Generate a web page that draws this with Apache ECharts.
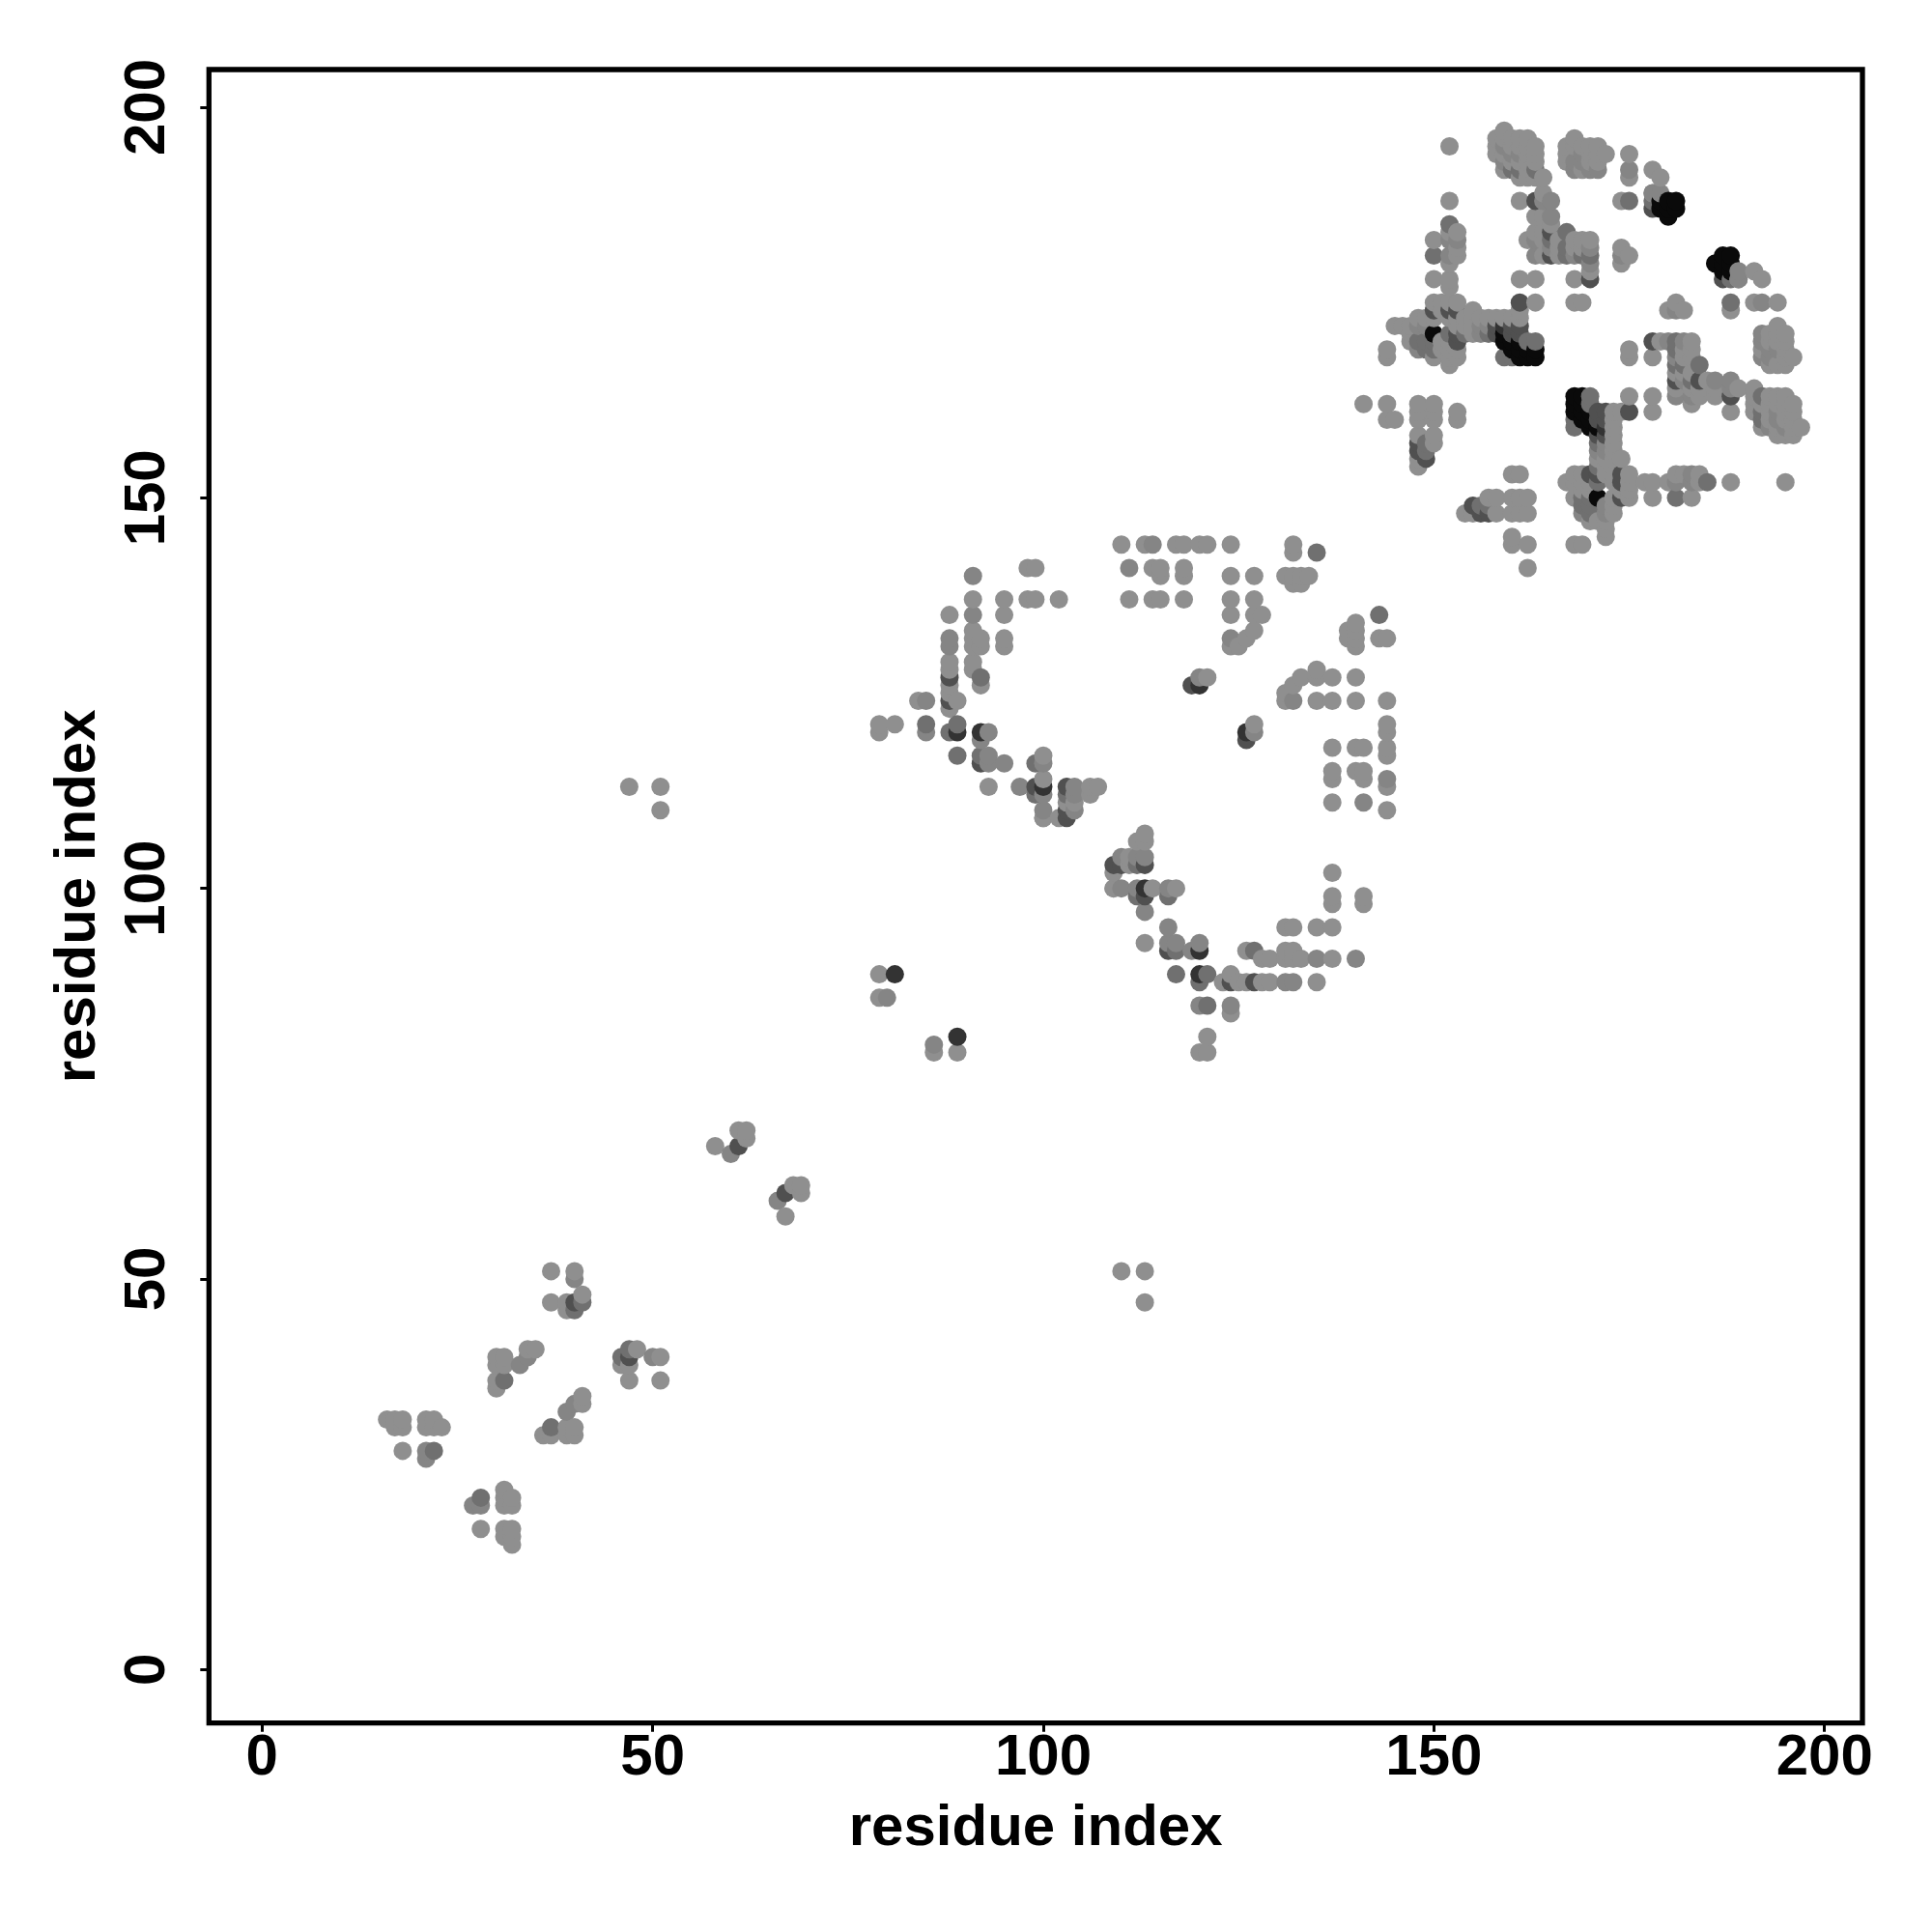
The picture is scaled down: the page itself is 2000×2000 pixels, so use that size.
<!DOCTYPE html>
<html><head><meta charset="utf-8">
<style>html,body{margin:0;padding:0;background:#fff}#c{width:2000px;height:2000px}</style>
<script src="https://cdn.jsdelivr.net/npm/echarts@6/dist/echarts.min.js"></script>
</head><body><div id="c"></div>
<script>
const tickValues=[0,50,100,150,200];
const axisTitle="residue index";
// each row: residue i, then the residues j in contact with it (the map is symmetric)
const contactsLevel1=[
[16,32],[17,31,32],[18,28,31,32],[21,31,32],[22,31,32],[23,31],
[30,36,37,39,40],[31,39,40],[34,41],[35,41],[37,47,51],[39,46,47],[40,51],[41,48],
[47,113],[51,110,113],[58,67],[61,69],[62,68,69],
[79,86,89,120,121],[81,121],[84,124],
[88,123,125,126,128,129,135],[89,124],[91,128,129,131,132,133,137],[92,126,131,132],[93,113],
[95,131,132,135,137],[98,137,141],[99,137,141],[100,109,114,117],[102,109,137],[103,111],[104,111],
[106,112,113],[107,113],[109,100],[110,144],[113,144],[117,144],[118,137,140,141,144],[120,144],[121,127,144],[124,131,135,137,140,144],
[111,137],[114,137,141],[115,137,140,141],[125,131],[126,132],[127,133,135,137,140],[128,135],
[131,140],[132,139,140,143,144],[133,139,140],[134,140],
[141,162],[144,160,162,168,169],[145,160,172],[146,172],[147,170,171,172],[148,154,155,158,160,161,162,173],[149,173],
[150,157,158,160,161,162,168,173,175,178,183],[151,169,170,174,175],
[152,167,168,169,170,173,175,177,178,180,184,188,195],[153,160,161,168,169,172,173,175,181,182,184],
[154,172,173],[155,171,172,173,174],[156,173],[157,173],[158,173,194,195,196],
[159,173,192,194,196,197],[160,173,193,195,196],[161,173,174,178,188,191,193,195,196],
[162,183,191,192,193,194,195,196],[163,175,178,184,186,191,193,194,195],[164,181,183,184,186,189,191],[165,185],
[166,181,182,183],[167,193,194,195],[168,175,178,182,183,195,196],[169,175,182,183,192,195],
[170,179,183,193,194,195],[171,193,194,195],[172,194],[174,180,182,188],[175,181,191,194],[178,189,192],[179,191]
];
const contactsLevel2=[
[21,27,28],[33,39],[34,40],[40,50],[60,66],[80,86],[85,120,124],[88,131,132],[91,135,140],[92,119],[93,116,117,120],[95,116],[97,113],
[100,110,112,116],[104,110,112,113],[111,141],[114,144],[120,127],[124,132],
[148,169,172],[149,172],[152,181,183],[153,183],[156,171,172],[157,172],[159,193,195],[160,194],[161,194],[163,181,183],[164,188],[165,182,186,188],
[168,181,192,193],[169,193,194],[170,180,182,192],[171,192],[174,181],[175,192],[178,189],[179,189]
];
const contactsLevel3=[
[22,28],[31,37],[41,47],[40,46],[85,121],[88,120],[89,117,121],[92,117,127],[99,112,116],[103,112],[135,143],
[148,170],[149,156,157,169,170],[150,169,170,181],[152,171,185],[154,171],[157,171],[159,168],[160,168,192],[161,192],[162,170],[163,170,192],
[165,183],[167,181,182,184],[169,181],[170,181],[175,188],[178,188]
];
const contactsLevel4=[
[40,47],[61,67],[88,124,127],[92,116],[99,113],[103,109,110,113],[119,126],
[148,156,157],[149,155],[150,174],[152,174],[153,170,171,174],[158,171,172],[160,171,172],[161,171,172,175],[163,188],[165,181,184],[170,178],[178,187]
];
const contactsLevel5=[
[81,89],[89,120],[92,120],[100,113],[120,126],[159,172]
];
const contactsLevel6=[
[150,171],[159,170,171],[160,169,170],[161,168,169,170],[162,168,169],[163,168,169],[179,187,188],[180,186,187,188],[181,187,188]
];
const levelGrays=['#8f8f8f','#858585','#707070','#505050','#333333','#0a0a0a'];
const allLevels=[contactsLevel1,contactsLevel2,contactsLevel3,contactsLevel4,contactsLevel5,contactsLevel6];
const points=[];
allLevels.forEach((rows,level)=>rows.forEach(row=>{
  const i=row[0];
  row.slice(1).forEach(j=>{points.push([i,j,level]);points.push([j,i,level]);});
}));
points.sort((p,q)=>p[0]-q[0]||p[1]-q[1]);
const font='"Liberation Sans"';
const chart=echarts.init(document.getElementById('c'),null,{renderer:'canvas'});
chart.setOption({
  animation:false,
  backgroundColor:'#fff',
  grid:{left:216.3,top:72,width:1711.7,height:1711.7,show:true,borderColor:'#000',borderWidth:5.3,backgroundColor:'transparent',containLabel:false},
  xAxis:{type:'value',min:-6.8,max:204.86,
    name:axisTitle,nameLocation:'middle',nameGap:80,
    nameTextStyle:{fontFamily:font,fontWeight:'bold',fontSize:60,color:'#000'},
    splitLine:{show:false},axisLine:{show:false,onZero:false},
    axisTick:{show:true,length:9,lineStyle:{color:'#000',width:3},customValues:tickValues},
    axisLabel:{show:true,margin:6.5,fontFamily:font,fontWeight:'bold',fontSize:60,color:'#000',customValues:tickValues,hideOverlap:false}},
  yAxis:{type:'value',min:-6.85,max:204.82,
    name:axisTitle,nameLocation:'middle',nameGap:105,
    nameTextStyle:{fontFamily:font,fontWeight:'bold',fontSize:60,color:'#000'},
    splitLine:{show:false},axisLine:{show:false,onZero:false},
    axisTick:{show:true,length:9,lineStyle:{color:'#000',width:3},customValues:tickValues},
    axisLabel:{show:true,rotate:90,margin:33,fontFamily:font,fontWeight:'bold',fontSize:60,color:'#000',customValues:tickValues,hideOverlap:false}},
  series:[{type:'scatter',data:points,symbol:'circle',symbolSize:19,clip:false,
    encode:{x:0,y:1},
    itemStyle:{color:p=>levelGrays[p.data[2]],opacity:1},
    emphasis:{disabled:true}}]
});
</script></body></html>
